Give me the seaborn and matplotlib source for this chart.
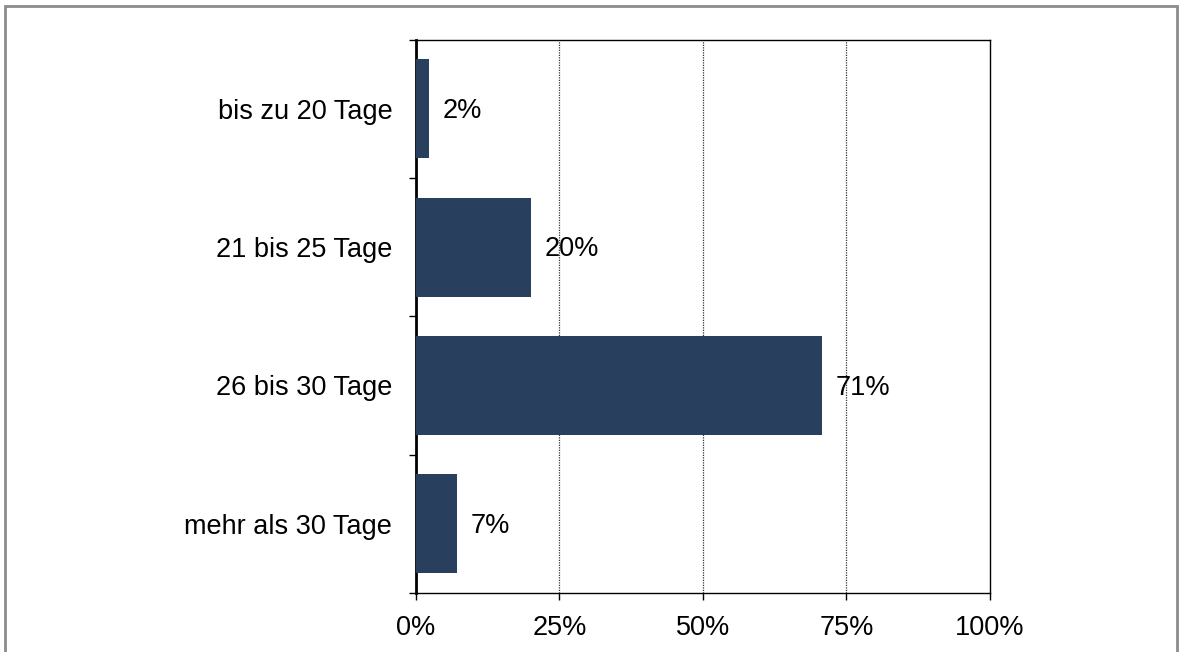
import matplotlib
matplotlib.use('Agg')
import matplotlib.pyplot as plt
from matplotlib.patches import Rectangle
import seaborn as sns
import pandas as pd

# Data
categories = ['bis zu 20 Tage', '21 bis 25 Tage', '26 bis 30 Tage', 'mehr als 30 Tage']
shares = [2.3, 20.0, 70.7, 7.1]
value_labels = ['2%', '20%', '71%', '7%']
x_ticks = [0, 25, 50, 75, 100]
x_tick_labels = ['0%', '25%', '50%', '75%', '100%']

df = pd.DataFrame({'category': categories, 'share': shares})

sns.set_style('white')
plt.rcParams['font.family'] = ['Liberation Sans', 'DejaVu Sans']

fig = plt.figure(figsize=(11.79, 6.52), dpi=100)
ax = fig.add_axes([0.3528, 0.0905, 0.8397 - 0.3528, 0.9394 - 0.0905])

sns.barplot(data=df, x='share', y='category', orient='h', color='#283F5E',
            width=0.715, saturation=1, linewidth=0, ax=ax, zorder=3)

ax.set_xlim(0, 100)
ax.set_ylim(len(categories) - 0.5, -0.5)
ax.set_xlabel('')
ax.set_ylabel('')

# dotted gridlines at 25/50/75
for v in x_ticks[1:-1]:
    ax.axvline(v, color='#333333', linestyle=(0, (1, 1)), linewidth=0.9, zorder=1)

ax.set_xticks(x_ticks)
ax.set_xticklabels(x_tick_labels, fontsize=19.5)
ax.tick_params(axis='x', bottom=True, direction='out', length=5, width=1,
               pad=11, color='black', labelcolor='black')

ax.set_yticks(range(len(categories)))
ax.set_yticklabels(categories, fontsize=19.5)
ax.tick_params(axis='y', which='major', left=True, length=0, pad=17, labelcolor='black')
ax.set_yticks([i - 0.5 for i in range(len(categories) + 1)], minor=True)
ax.tick_params(axis='y', which='minor', left=True, direction='out', length=5,
               width=1, color='black')

for side in ['top', 'right', 'bottom']:
    ax.spines[side].set_color('black')
    ax.spines[side].set_linewidth(1)
ax.spines['left'].set_color('black')
ax.spines['left'].set_linewidth(2)

for i, (v, lab) in enumerate(zip(shares, value_labels)):
    ax.annotate(lab, xy=(v, i), xytext=(10, -1.5), textcoords='offset points',
                ha='left', va='center', fontsize=19.5, color='black', zorder=4)

# grey outer frame (open at the bottom edge of the image)
fig.patches.append(Rectangle((4.5 / 1179, -0.05), 1172 / 1179, 1.05 - 6 / 652,
                             transform=fig.transFigure, fill=False,
                             edgecolor='#8c8c8c', linewidth=2))

fig.savefig('out.png', dpi=100)
